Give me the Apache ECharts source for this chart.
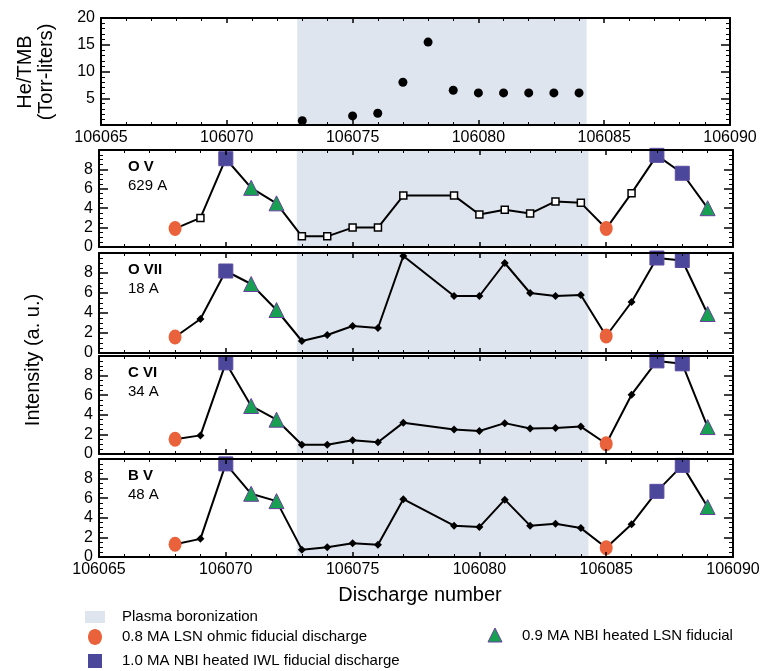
<!DOCTYPE html>
<html>
<head>
<meta charset="utf-8">
<script src="https://cdn.jsdelivr.net/npm/echarts@6/dist/echarts.min.js"></script>
<style>html,body{margin:0;padding:0;background:#fff;}#c{width:768px;height:671px;}</style>
</head>
<body>
<div id="c"></div>
<script>
// ---------- data ----------
const xTickValues = [106065, 106070, 106075, 106080, 106085, 106090];
const boronization = [106072.8, 106084.3];
const heShots = [106073, 106075, 106076, 106077, 106078, 106079, 106080, 106081, 106082, 106083, 106084];
const heVals  = [0.8, 1.7, 2.2, 8.0, 15.5, 6.5, 6.0, 6.0, 6.0, 6.0, 6.0];
const shots = [106068, 106069, 106070, 106071, 106072, 106073, 106074, 106075, 106076, 106077,
               106079, 106080, 106081, 106082, 106083, 106084, 106085, 106086, 106087, 106088, 106089];
// o = 0.8 MA ohmic, p = plain, s = 1.0 MA IWL, t = 0.9 MA LSN NBI
const kinds = ['o','p','s','t','t','p','p','p','p','p','p','p','p','p','p','p','o','p','s','s','t'];
const ovVals   = [1.9, 3.0, 9.1, 6.1, 4.5, 1.1, 1.1, 2.0, 2.0, 5.3, 5.3, 3.35, 3.85, 3.45, 4.7, 4.55, 1.9, 5.55, 9.45, 7.6, 4.0];
const oviiVals = [1.6, 3.4, 8.2, 6.9, 4.3, 1.2, 1.8, 2.7, 2.5, 9.7, 5.7, 5.7, 9.0, 6.0, 5.7, 5.8, 1.7, 5.1, 9.5, 9.25, 3.9];
const cviVals  = [1.5, 1.9, 9.3, 4.9, 3.5, 0.95, 0.95, 1.4, 1.2, 3.2, 2.5, 2.35, 3.15, 2.6, 2.65, 2.8, 1.05, 6.05, 9.5, 9.2, 2.75];
const bvVals   = [1.3, 1.85, 9.5, 6.45, 5.7, 0.75, 1.0, 1.4, 1.25, 5.9, 3.2, 3.05, 5.85, 3.2, 3.4, 2.95, 0.95, 3.35, 6.7, 9.35, 5.1];
const panelNames = ['O V', 'O VII', 'C VI', 'B V'];
const panelWaves = ['629 A', '18 A', '34 A', '48 A'];
const panelVals = [ovVals, oviiVals, cviVals, bvVals];
const legendNames = {
  shade: 'Plasma boronization',
  o: '0.8 MA LSN ohmic fiducial discharge',
  t: '0.9 MA NBI heated LSN fiducial',
  s: '1.0 MA NBI heated IWL fiducial discharge'
};

// ---------- styling ----------
const FONT = 'Liberation Sans, Arial, Helvetica, sans-serif';
const SHADE = '#dfe5ee';
const ORANGE = '#e9623b';
const PURPLE = '#4b479a';
const GREEN = '#17a052';
const TRI_EDGE = '#6a3fa0';

const grids = [
  {left: 101, top: 18, width: 629, height: 107},
  {left: 99, top: 150, width: 634, height: 97},
  {left: 99, top: 253, width: 634, height: 100},
  {left: 99, top: 356, width: 634, height: 98},
  {left: 99, top: 459, width: 634, height: 98}
];

const lineBlack = {color: '#000', width: 2};
const xAxes = [], yAxes = [];
grids.forEach((g, i) => {
  const showLab = (i === 0 || i === 4);
  ['bottom', 'top'].forEach(pos => {
    xAxes.push({
      gridIndex: i, type: 'value', position: pos, z: 5,
      min: xTickValues[0], max: xTickValues[xTickValues.length - 1], interval: 5,
      axisLine: {show: true, onZero: false, lineStyle: lineBlack},
      axisTick: {show: true, inside: true, length: 5, lineStyle: {color: '#000', width: 1.5}},
      minorTick: {show: true, splitNumber: 5, length: 3, lineStyle: {color: '#000', width: 1}},
      splitLine: {show: false},
      axisLabel: {show: pos === 'bottom' && showLab, fontSize: 16, fontFamily: FONT, color: '#000', margin: 5,
                  formatter: v => String(v)}
    });
  });
  const isTop = i === 0;
  ['left', 'right'].forEach(pos => {
    yAxes.push({
      gridIndex: i, type: 'value', position: pos, z: 5,
      min: 0, max: isTop ? 20 : 10, interval: isTop ? 5 : 2,
      axisLine: {show: true, onZero: false, lineStyle: lineBlack},
      axisTick: {show: true, inside: true, length: 9, lineStyle: {color: '#000', width: 1.5}},
      minorTick: {show: true, splitNumber: isTop ? 5 : 4, length: 4, lineStyle: {color: '#000', width: 1}},
      splitLine: {show: false},
      axisLabel: {show: pos === 'left', fontSize: 16, fontFamily: FONT, color: '#000', margin: 6,
                  formatter: v => isTop ? (v > 0 ? String(v) : '') : (v <= 8 ? String(v) : '')}
    });
  });
});

const shadeArea = {
  silent: true,
  itemStyle: {color: SHADE, opacity: 1},
  data: [[{xAxis: boronization[0]}, {xAxis: boronization[1]}]]
};

const series = [];
// top panel
series.push({
  type: 'scatter', xAxisIndex: 0, yAxisIndex: 0, name: 'He/TMB',
  symbol: 'circle', symbolSize: 9, itemStyle: {color: '#000', opacity: 1},
  data: heShots.map((s, k) => [s, heVals[k]]),
  markArea: shadeArea, z: 3
});
panelVals.forEach((vals, p) => {
  const gi = p + 1;
  const xi = gi * 2, yi = gi * 2;
  series.push({
    type: 'line', xAxisIndex: xi, yAxisIndex: yi, name: panelNames[p],
    symbol: 'none', lineStyle: {color: '#000', width: 2},
    data: shots.map((s, k) => [s, vals[k]]),
    markArea: shadeArea, z: 2
  });
  const plain = shots.map((s, k) => kinds[k] === 'p' ? [s, vals[k]] : null).filter(Boolean);
  series.push({
    type: 'scatter', xAxisIndex: xi, yAxisIndex: yi, name: panelNames[p] + ' points',
    symbol: p === 0 ? 'rect' : 'diamond', symbolSize: p === 0 ? 7 : 8,
    itemStyle: p === 0 ? {color: '#fff', borderColor: '#000', borderWidth: 1.5, opacity: 1} : {color: '#000', opacity: 1},
    data: plain, z: 3
  });
  const pick = kind => shots.map((s, k) => kinds[k] === kind ? [s, vals[k]] : null).filter(Boolean);
  series.push({
    type: 'scatter', xAxisIndex: xi, yAxisIndex: yi, name: legendNames.o,
    symbol: 'circle', symbolSize: [13, 15], itemStyle: {color: ORANGE, opacity: 1},
    data: pick('o'), z: 4
  });
  series.push({
    type: 'scatter', xAxisIndex: xi, yAxisIndex: yi, name: legendNames.s,
    symbol: 'rect', symbolSize: 14, itemStyle: {color: PURPLE, borderColor: '#5a4aa0', borderWidth: 1, opacity: 1},
    data: pick('s'), z: 4
  });
  series.push({
    type: 'scatter', xAxisIndex: xi, yAxisIndex: yi, name: legendNames.t,
    symbol: 'triangle', symbolSize: 15, itemStyle: {color: GREEN, borderColor: TRI_EDGE, borderWidth: 1, opacity: 1},
    data: pick('t'), z: 4
  });
});

const graphic = [];
// axis titles
graphic.push({type: 'text', x: 25, y: 72, rotation: Math.PI / 2,
  style: {text: 'He/TMB', fill: '#000', font: '20px ' + FONT, textAlign: 'center', textVerticalAlign: 'middle'}});
graphic.push({type: 'text', x: 46, y: 72, rotation: Math.PI / 2,
  style: {text: '(Torr-liters)', fill: '#000', font: '20px ' + FONT, textAlign: 'center', textVerticalAlign: 'middle'}});
graphic.push({type: 'text', x: 33, y: 360, rotation: Math.PI / 2,
  style: {text: 'Intensity (a. u.)', fill: '#000', font: '20px ' + FONT, textAlign: 'center', textVerticalAlign: 'middle'}});
graphic.push({type: 'text', x: 420, y: 595,
  style: {text: 'Discharge number', fill: '#000', font: '20px ' + FONT, textAlign: 'center', textVerticalAlign: 'middle'}});
// panel labels
panelNames.forEach((n, p) => {
  const g = grids[p + 1];
  graphic.push({type: 'text', x: 128, y: g.top + 17, z: 10,
    style: {text: n, fill: '#000', font: 'bold 15px ' + FONT, textAlign: 'left', textVerticalAlign: 'middle'}});
  graphic.push({type: 'text', x: 128, y: g.top + 36, z: 10,
    style: {text: panelWaves[p], fill: '#000', font: '15px ' + FONT, textAlign: 'left', textVerticalAlign: 'middle'}});
});
// legend
graphic.push({type: 'rect', shape: {x: 85, y: 611, width: 20, height: 12}, style: {fill: SHADE}});
graphic.push({type: 'text', x: 122, y: 617, style: {text: legendNames.shade, fill: '#000', font: '15px ' + FONT, textVerticalAlign: 'middle'}});
graphic.push({type: 'ellipse', shape: {cx: 95, cy: 637, rx: 7, ry: 8}, style: {fill: ORANGE}});
graphic.push({type: 'text', x: 122, y: 637, style: {text: legendNames.o, fill: '#000', font: '15px ' + FONT, textVerticalAlign: 'middle'}});
graphic.push({type: 'polygon', shape: {points: [[488, 642], [502, 642], [495, 628]]}, style: {fill: GREEN, stroke: TRI_EDGE, lineWidth: 1}});
graphic.push({type: 'text', x: 522, y: 636, style: {text: legendNames.t, fill: '#000', font: '15px ' + FONT, textVerticalAlign: 'middle'}});
graphic.push({type: 'rect', shape: {x: 88, y: 654, width: 14, height: 14}, style: {fill: PURPLE}});
graphic.push({type: 'text', x: 122, y: 661, style: {text: legendNames.s, fill: '#000', font: '15px ' + FONT, textVerticalAlign: 'middle'}});

const chart = echarts.init(document.getElementById('c'), null, {renderer: 'canvas'});
chart.setOption({
  animation: false,
  backgroundColor: '#fff',
  grid: grids,
  xAxis: xAxes,
  yAxis: yAxes,
  series: series,
  graphic: graphic
});
</script>
</body>
</html>
